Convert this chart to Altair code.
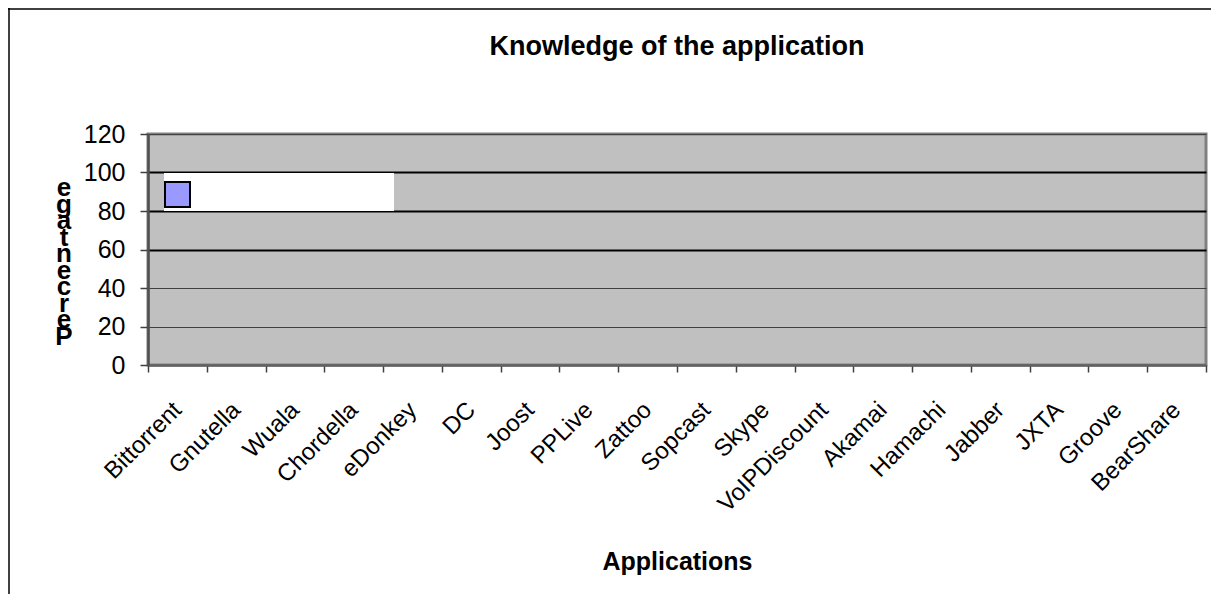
import altair as alt
import pandas as pd

apps = ["Bittorrent", "Gnutella", "Wuala", "Chordella", "eDonkey", "DC", "Joost",
        "PPLive", "Zattoo", "Sopcast", "Skype", "VoIPDiscount", "Akamai", "Hamachi",
        "Jabber", "JXTA", "Groove", "BearShare"]
values = [0, 0, 0, 0, 0, 0, 0, 0, 0, 0, 0, 0, 0, 0, 0, 0, 0, 0]
series = "Percentage"
y_ticks = [0, 20, 40, 60, 80, 100, 120]
y_title_letters = ["e", "g", "a", "t", "n", "e", "c", "r", "e", "P"]

FONT = "Liberation Sans, Arial"

df = pd.DataFrame({"app": apps, "value": values, "series": [series] * len(apps)})

bars = alt.Chart(df).mark_bar().encode(
    x=alt.X("app:N", sort=apps,
            scale=alt.Scale(paddingInner=0, paddingOuter=0),
            axis=alt.Axis(title="Applications", tickBand="extent", labelAngle=-45,
                          labelAlign="right", labelBaseline="middle", labelPadding=34,
                          labelFont=FONT, labelFontSize=24, labelColor="black",
                          tickSize=7, tickColor="#404040", tickWidth=1.5,
                          domainColor="#606060", domainWidth=2.5, grid=False,
                          titleFont=FONT, titleFontWeight="bold", titleFontSize=25,
                          titleColor="black", titleY=204, titleBaseline="alphabetic")),
    y=alt.Y("value:Q", scale=alt.Scale(domain=[0, 120]),
            axis=alt.Axis(title=None, values=y_ticks, tickSize=8, tickColor="#404040",
                          tickWidth=1.5, labelPadding=15, labelFont=FONT,
                          labelFontSize=25, labelColor="black",
                          domainColor="#505050", domainWidth=2.5, grid=True,
                          gridColor={"condition": {"test": "datum.value >= 60 && datum.value <= 100", "value": "black"}, "value": "#404040"},
                          gridWidth={"condition": {"test": "datum.value >= 60 && datum.value <= 100", "value": 2.2}, "value": 1},
                          gridOpacity=1)),
    color=alt.Color("series:N", scale=alt.Scale(range=["#9999FF"]),
                    legend=alt.Legend(orient="none", legendX=16, legendY=39, title=" ",
                                      titleFontSize=7, titlePadding=1, padding=0,
                                      fillColor="white", symbolType="square",
                                      symbolSize=625, symbolStrokeColor="black",
                                      symbolStrokeWidth=2, symbolOpacity=1,
                                      labelExpr="''", labelFontSize=1, labelOffset=203)),
)

ytitle = alt.Chart(pd.DataFrame({"k": [0]})).mark_text(
    font=FONT, fontSize=26, fontWeight="bold", lineHeight=16.5,
    align="center", baseline="alphabetic", color="black"
).encode(x=alt.value(-84), y=alt.value(62), text=alt.value(y_title_letters))

border = alt.Chart(pd.DataFrame({"k": [0]})).mark_rule(color="black", strokeWidth=1.5)
left_border = border.encode(x=alt.value(-139), y=alt.value(-126), y2=alt.value(500))
top_border = border.encode(x=alt.value(-140), x2=alt.value(1100), y=alt.value(-125))

chart = alt.layer(bars, ytitle, left_border, top_border).properties(
    width=1058, height=231,
    autosize=alt.AutoSizeParams(type="none"),
    padding={"left": 140, "top": 126, "right": 5, "bottom": 229},
    title=alt.TitleParams("Knowledge of the application", font=FONT, fontSize=27,
                          fontWeight="bold", color="black", anchor="middle",
                          frame="group", offset=-54),
).configure_view(fill="#C0C0C0", stroke="#808080", strokeWidth=3)

chart.save("out.html", embed_options={"renderer": "svg", "actions": False})
